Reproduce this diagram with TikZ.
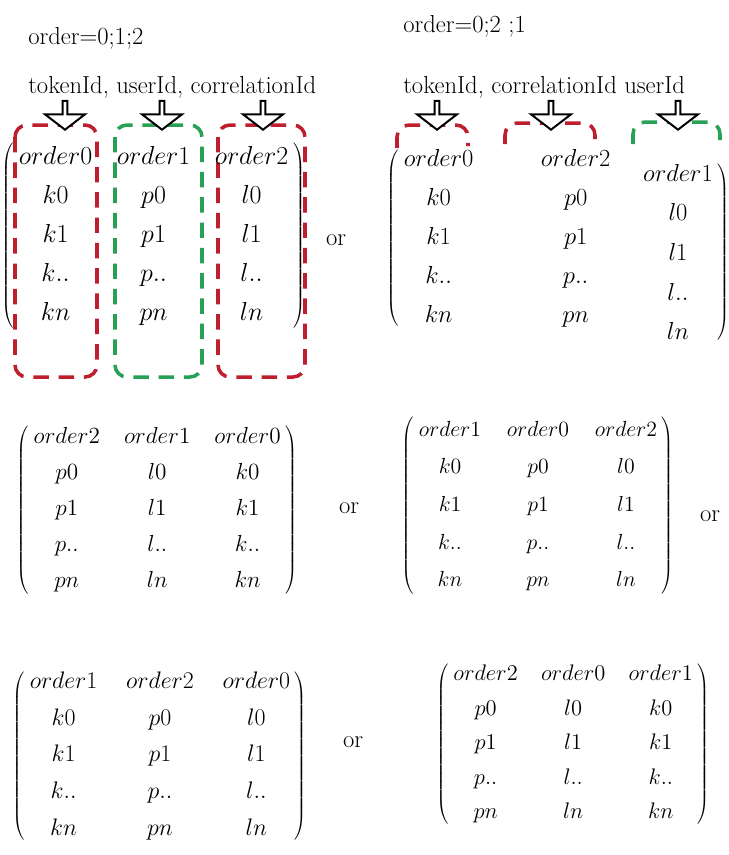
\documentclass[tikz,border=0pt]{standalone}
\usepackage{fix-cm}
\usepackage{amsmath}
\usepackage{xcolor}
\usepackage{tikz}
\usetikzlibrary{matrix, shapes.arrows}

\definecolor{boxred}{RGB}{190,30,45}
\definecolor{boxgreen}{RGB}{40,160,85}

\begin{document}
\begin{tikzpicture}[
    perm/.style={matrix of math nodes, inner sep=1pt, nodes={inner sep=1pt, anchor=base}},
    redbox/.style={draw=boxred, line width=2.5pt, dash pattern=on 11pt off 7pt, rounded corners=0.3cm},
    greenbox/.style={draw=boxgreen, line width=2.5pt, dash pattern=on 11pt off 7pt, rounded corners=0.3cm},
    colarrow/.style={single arrow, draw, black, line width=1.4pt, fill=white, shape border rotate=270, minimum height=0.72cm, minimum width=1.0cm, single arrow head extend=0.19cm, single arrow tip angle=105, inner sep=0pt},
    caption/.style={anchor=base west, inner sep=0pt, font=\fontsize{17.5}{21}\selectfont},
    ortext/.style={inner sep=0pt, font=\fontsize{17.5}{21}\selectfont}]

    \useasboundingbox (0,0) rectangle (18.225,-21.375);

    % --- order=0;1;2 ---
    \node[caption] (title_a) at (0.70,-1.10) {order=0;1;2};
    \node[caption] (keys_a) at (0.70,-2.33) {tokenId, userId, correlationId};

    \draw[redbox] (0.375,-3.125) rectangle (2.425,-9.425);
    \draw[greenbox] (2.875,-3.125) rectangle (5.05,-9.425);
    \draw[redbox] (5.45,-3.125) rectangle (7.625,-9.425);

    \node[colarrow] (arr_a1) at (1.625,-2.86) {};
    \node[colarrow] (arr_a2) at (4.05,-2.86) {};
    \node[colarrow] (arr_a3) at (6.575,-2.86) {};

    \matrix[perm, left delimiter=(, right delimiter=), font=\fontsize{18.5}{22}\selectfont,
        row sep={0.97cm,between origins}, column sep={2.45cm,between origins}] (perm_a) at (3.84,-5.9) {
        order0 & order1 & order2 \\
        k0 & p0 & l0 \\
        k1 & p1 & l1 \\
        k.. & p.. & l.. \\
        kn & pn & ln \\
    };
    \node[ortext] (or_a) at (8.4,-6.0) {or};

    % --- order=0;2;1 ---
    \node[caption] (title_b) at (10.075,-0.8) {order=0;2 ;1};
    \node[caption] (keys_b) at (10.075,-2.33) {tokenId, correlationId userId};

    \draw[redbox] (9.925,-3.7) -- (9.925,-3.125) -- (11.7,-3.125) -- (11.7,-3.65);
    \draw[redbox] (12.625,-3.6) -- (12.625,-3.075) -- (14.875,-3.075) -- (14.875,-3.625);
    \draw[greenbox] (15.825,-3.6) -- (15.825,-3.05) -- (18.0,-3.05) -- (18.0,-3.625);

    \node[colarrow] (arr_b1) at (10.925,-2.86) {};
    \node[colarrow] (arr_b2) at (13.775,-2.86) {};
    \node[colarrow] (arr_b3) at (16.95,-2.86) {};

    \matrix[perm, left delimiter=(, font=\fontsize{17.5}{21}\selectfont,
        row sep={0.975cm,between origins}, column sep={3.425cm,between origins}] (perm_b) at (12.68,-5.95) {
        order0 & order2 \\
        k0 & p0 \\
        k1 & p1 \\
        k.. & p.. \\
        kn & pn \\
    };
    \matrix[perm, right delimiter=), font=\fontsize{17.5}{21}\selectfont,
        row sep={0.99cm,between origins}] (perm_b2) at (16.95,-6.3) {
        order1 \\
        l0 \\
        l1 \\
        l.. \\
        ln \\
    };

    % --- second row ---
    \matrix[perm, left delimiter=(, right delimiter=), font=\fontsize{16.5}{20}\selectfont,
        row sep={0.9cm,between origins}, column sep={2.26cm,between origins}] (perm_c) at (3.93,-12.75) {
        order2 & order1 & order0 \\
        p0 & l0 & k0 \\
        p1 & l1 & k1 \\
        p.. & l.. & k.. \\
        pn & ln & kn \\
    };
    \node[ortext] (or_c) at (8.725,-12.7) {or};

    \matrix[perm, left delimiter=(, right delimiter=), font=\fontsize{15.5}{19}\selectfont,
        row sep={0.94cm,between origins}, column sep={2.2cm,between origins}] (perm_d) at (13.45,-12.65) {
        order1 & order0 & order2 \\
        k0 & p0 & l0 \\
        k1 & p1 & l1 \\
        k.. & p.. & l.. \\
        kn & pn & ln \\
    };
    \node[ortext] (or_d) at (17.75,-12.9) {or};

    % --- third row ---
    \matrix[perm, left delimiter=(, right delimiter=), font=\fontsize{17}{20}\selectfont,
        row sep={0.92cm,between origins}, column sep={2.41cm,between origins}] (perm_e) at (4.0,-18.9) {
        order1 & order2 & order0 \\
        k0 & p0 & l0 \\
        k1 & p1 & l1 \\
        k.. & p.. & l.. \\
        kn & pn & ln \\
    };
    \node[ortext] (or_e) at (8.825,-18.55) {or};

    \matrix[perm, left delimiter=(, right delimiter=), font=\fontsize{16}{19}\selectfont,
        row sep={0.86cm,between origins}, column sep={2.19cm,between origins}] (perm_f) at (14.33,-18.6) {
        order2 & order0 & order1 \\
        p0 & l0 & k0 \\
        p1 & l1 & k1 \\
        p.. & l.. & k.. \\
        pn & ln & kn \\
    };

\end{tikzpicture}
\end{document}
